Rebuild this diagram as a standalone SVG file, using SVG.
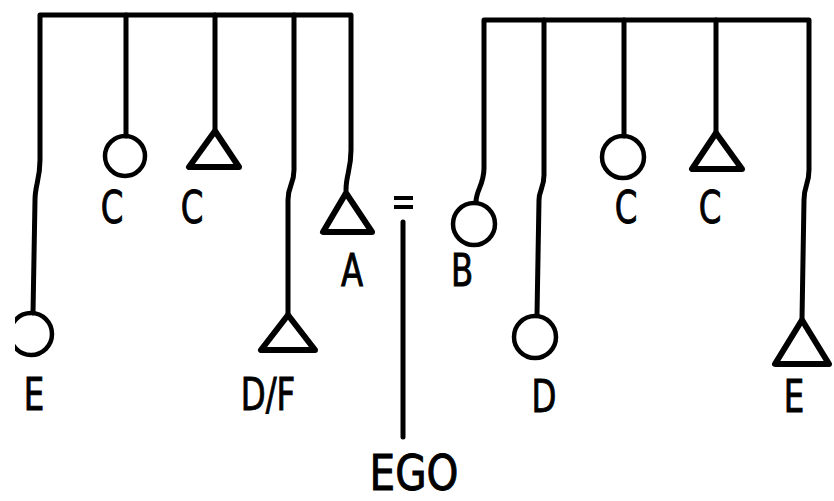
<svg xmlns="http://www.w3.org/2000/svg" width="834" height="501" viewBox="0 0 834 501">
<style>
.ln{fill:none;stroke:#000;stroke-width:5;stroke-linejoin:round;stroke-linecap:round}
.tri{fill:none;stroke:#000;stroke-width:6;stroke-linejoin:round}
.cir{fill:none;stroke:#000;stroke-width:4.5}
.lb{font-family:"DejaVu Sans Condensed","DejaVu Sans","Liberation Sans",sans-serif;font-size:45px;text-anchor:middle;fill:#000;stroke:#000;stroke-width:0.9}
.ego{font-size:49px}
</style>
<defs>
<clipPath id="edge"><rect x="15" y="0" width="819" height="501"/></clipPath>
</defs>
<rect width="834" height="501" fill="#fff"/>
<g id="connectors">
<path class="ln" d="M33,313 L35,200 C35,185 40,180 40,160 V15 H351 V150 C351,170 346,175 346,190"/>
<path class="ln" d="M126,15 V136"/>
<path class="ln" d="M215,15 V130"/>
<path class="ln" d="M294,15 V170 C294,185 288,185 288,200 V314"/>
<path class="ln" d="M476,202 C476,190 484,185 484,168 V20 H809 V170 C809,185 804,185 804,200 L802,319"/>
<path class="ln" d="M544,20 V175 C544,188 539,190 539,200 L537,315"/>
<path class="ln" d="M624,20 V136"/>
<path class="ln" d="M716,20 V132"/>
<path class="ln" d="M403,222 V437"/>
<path class="ln" d="M394,198 H413 M394,207 H413" style="stroke-width:4;stroke-linecap:butt"/>
</g>
<g id="left-E">
<circle class="cir" cx="31" cy="334" r="21" clip-path="url(#edge)"/>
<text class="lb" transform="translate(34,410) scale(0.8,1)">E</text>
</g>
<g id="left-C-circle">
<circle class="cir" cx="125" cy="156" r="20"/>
<text class="lb" transform="translate(112,223) scale(0.8,1)">C</text>
</g>
<g id="left-C-triangle">
<path class="tri" d="M215,131 L189,167 H239 Z"/>
<text class="lb" transform="translate(192,223) scale(0.8,1)">C</text>
</g>
<g id="left-DF">
<path class="tri" d="M288,315 L261,350 H315 Z"/>
<text class="lb" transform="translate(268,410) scale(0.8,1)">D/F</text>
</g>
<g id="left-A">
<path class="tri" d="M346,193 L323,232 H372 Z"/>
<text class="lb" transform="translate(352,286) scale(0.8,1)">A</text>
</g>
<g id="ego">
<text class="lb ego" transform="translate(414,490) scale(0.92,1)">EGO</text>
</g>
<g id="right-B">
<circle class="cir" cx="474" cy="224" r="21"/>
<text class="lb" transform="translate(462,286) scale(0.8,1)">B</text>
</g>
<g id="right-D">
<circle class="cir" cx="535" cy="337" r="21"/>
<text class="lb" transform="translate(544,412) scale(0.8,1)">D</text>
</g>
<g id="right-C-circle">
<circle class="cir" cx="623" cy="157" r="21"/>
<text class="lb" transform="translate(626,223) scale(0.8,1)">C</text>
</g>
<g id="right-C-triangle">
<path class="tri" d="M716,133 L692,169 H742 Z"/>
<text class="lb" transform="translate(710,223) scale(0.8,1)">C</text>
</g>
<g id="right-E">
<path class="tri" d="M802,320 L775,364 H829 Z"/>
<text class="lb" transform="translate(794,412) scale(0.8,1)">E</text>
</g>
</svg>
